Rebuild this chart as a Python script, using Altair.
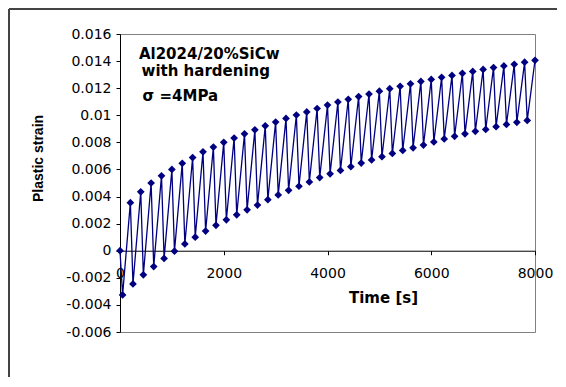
import altair as alt
import pandas as pd

# ---- data ----
start_time = [0]
start_strain = [0.0]

upper_time = [200, 400, 600, 800, 1000, 1200, 1400, 1600, 1800, 2000,
              2200, 2400, 2600, 2800, 3000, 3200, 3400, 3600, 3800, 4000,
              4200, 4400, 4600, 4800, 5000, 5200, 5400, 5600, 5800, 6000,
              6200, 6400, 6600, 6800, 7000, 7200, 7400, 7600, 7800, 8000]
upper_strain = [0.00355, 0.00435, 0.00500, 0.00553, 0.00600, 0.00645, 0.00688, 0.00730, 0.00765, 0.00800,
                0.00832, 0.00863, 0.00893, 0.00922, 0.00950, 0.00977, 0.01002, 0.01025, 0.01050, 0.01075,
                0.01098, 0.01118, 0.01138, 0.01157, 0.01178, 0.01196, 0.01214, 0.01232, 0.01250, 0.01265,
                0.01280, 0.01294, 0.01310, 0.01324, 0.01338, 0.01352, 0.01364, 0.01376, 0.01392, 0.01406]

lower_time = [50, 250, 450, 650, 850, 1050, 1250, 1450, 1650, 1850,
              2050, 2250, 2450, 2650, 2850, 3050, 3250, 3450, 3650, 3850,
              4050, 4250, 4450, 4650, 4850, 5050, 5250, 5450, 5650, 5850,
              6050, 6250, 6450, 6650, 6850, 7050, 7250, 7450, 7650, 7850]
lower_strain = [-0.00326, -0.00245, -0.00178, -0.00117, -0.00057, -0.00003, 0.00050, 0.00100, 0.00145, 0.00188,
                0.00228, 0.00265, 0.00302, 0.00337, 0.00377, 0.00412, 0.00446, 0.00476, 0.00508, 0.00540,
                0.00568, 0.00593, 0.00620, 0.00647, 0.00670, 0.00694, 0.00718, 0.00740, 0.00760, 0.00780,
                0.00803, 0.00825, 0.00845, 0.00863, 0.00882, 0.00895, 0.00916, 0.00932, 0.00948, 0.00962]

x_ticks = [0, 2000, 4000, 6000, 8000]
y_ticks = [-0.006, -0.004, -0.002, 0, 0.002, 0.004, 0.006, 0.008, 0.010, 0.012, 0.014, 0.016]
x_domain = [0, 8000]
y_domain = [-0.006, 0.016]

note_lines = ["Al2024/20%SiCw", "with hardening", "\u03c3 =4MPa"]
note_time = [365, 415, 435]
note_strain = [0.01452, 0.01325, 0.01142]

# ---- build tables ----
df = pd.DataFrame({
    "time": start_time + upper_time + lower_time,
    "strain": start_strain + upper_strain + lower_strain,
}).sort_values("time").reset_index(drop=True)
df["order"] = range(len(df))

notes = pd.DataFrame({"text": note_lines, "time": note_time, "strain": note_strain})

W, H = 415, 298
NAVY = "#000080"
x_offset = -H * (0 - y_domain[0]) / (y_domain[1] - y_domain[0])

xscale = alt.Scale(domain=x_domain, nice=False, zero=False)
yscale = alt.Scale(domain=y_domain, nice=False, zero=False)

xaxis = alt.Axis(values=x_ticks, format="d", offset=x_offset, grid=False,
                 domainColor="#000", tickColor="#000", tickSize=4,
                 labelPadding=12, labelFont="DejaVu Sans", labelFontSize=14,
                 labelColor="#000", labelFlush=False, labelOverlap=False, labelBound=False,
                 title="Time [s]", titleFont="DejaVu Sans", titleFontSize=15,
                 titleFontWeight="bold", titleColor="#000",
                 titleX=263, titleY=47, titleBaseline="middle", titleAlign="center")

yaxis = alt.Axis(values=y_ticks, grid=False, tickCount=12,
                 labelExpr="datum.value < -1e-9 ? '-' + format(-datum.value, '.3~f') : format(datum.value, '.3~f')",
                 domainColor="#000", tickColor="#000", tickSize=4,
                 labelPadding=5, labelFont="DejaVu Sans", labelFontSize=14,
                 labelColor="#000", labelOverlap=False, labelFlush=False,
                 title="Plastic strain", titleFont="Liberation Sans", titleFontSize=14,
                 titleFontWeight="bold", titleColor="#000",
                 titleX=-82, titleY=124, titleBaseline="middle", titleAlign="center")

X = alt.X("time:Q", scale=xscale, axis=xaxis)
Y = alt.Y("strain:Q", scale=yscale, axis=yaxis)

base = alt.Chart(df)

line = base.mark_line(color=NAVY, strokeWidth=1.3, clip=False).encode(
    x=X, y=Y, order="order:Q",
)

pts = base.mark_point(shape="diamond", filled=True, size=60, color=NAVY,
                      opacity=1, clip=False).encode(x=X, y=Y)

text = alt.Chart(notes).mark_text(align="left", baseline="middle",
                                  font="DejaVu Sans", fontSize=15,
                                  fontWeight="bold", color="#000").encode(
    x=X, y=Y, text="text:N",
)

frame_df = pd.DataFrame({"a": [0]})
frame_top = alt.Chart(frame_df).mark_rule(color="#444", strokeWidth=2).encode(
    x=alt.value(-111), x2=alt.value(460), y=alt.value(-25))
frame_left = alt.Chart(frame_df).mark_rule(color="#444", strokeWidth=2).encode(
    x=alt.value(-111), y=alt.value(-25), y2=alt.value(360))

chart = alt.layer(frame_top, frame_left, line, pts, text).properties(
    width=W, height=H,
    padding={"left": 112, "top": 26, "right": 22, "bottom": 45},
    autosize=alt.AutoSizeParams(type="none"),
    background="white",
).configure_view(stroke="#808080", strokeWidth=1)

chart.save("out.html", embed_options={"renderer": "svg", "actions": False})
